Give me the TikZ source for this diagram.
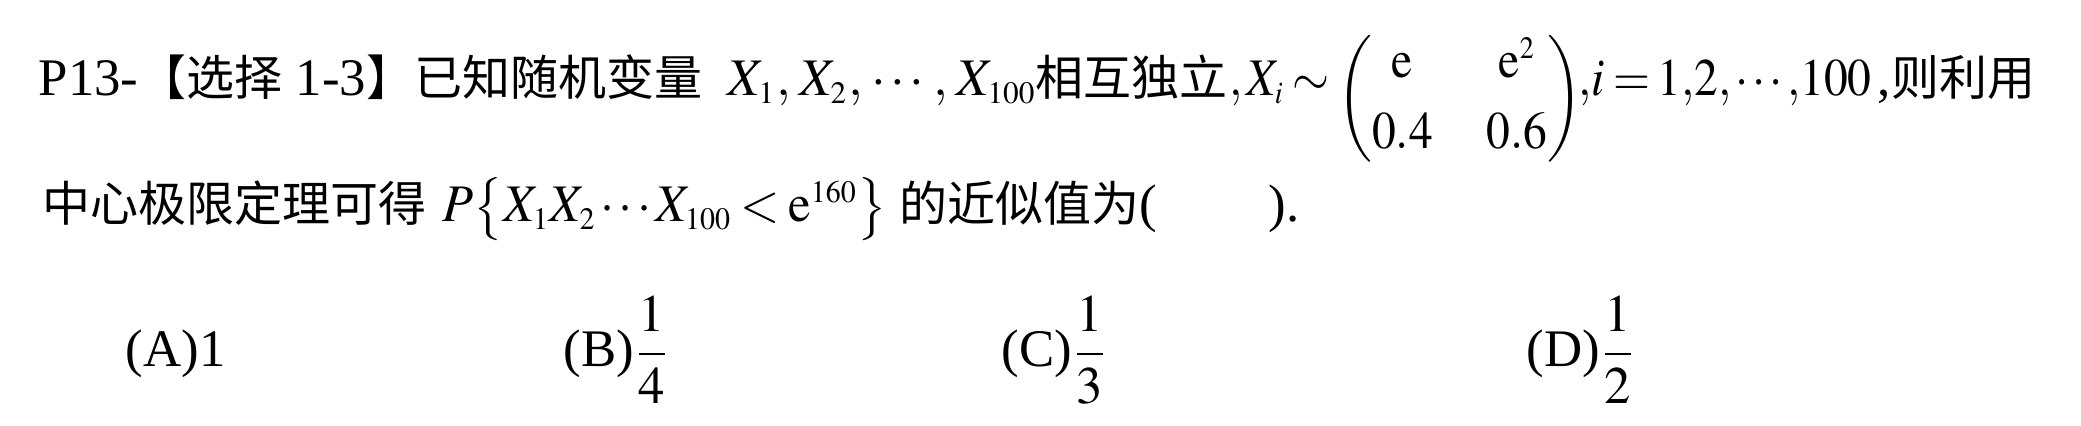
\documentclass[tikz,border=0pt]{standalone}
\usepackage{amsmath}
\usepackage{graphicx}
\usepackage[no-math]{fontspec}
\usepackage{mathptmx}
\setmainfont{Liberation Serif}
\newfontfamily\cjk{Noto Sans CJK SC}
\DeclareMathSizes{13.2}{13.2}{7.8}{6}
\newcommand{\zh}[1]{{\cjk\fontsize{12}{14}\selectfont #1}}
\newcommand{\tightmath}{\thickmuskip=3mu\medmuskip=2mu\thinmuskip=1.5mu}
\newcommand{\narrow}[2][0.9]{\scalebox{#1}[1]{#2}}
\begin{document}
\begin{tikzpicture}[x=0.25pt,y=-0.25pt,
	txt/.style={anchor=base west,inner sep=0pt,font={\fontsize{13.2}{16}\selectfont\tightmath}}]
	\useasboundingbox (0,0) rectangle (2081,426);
	% first line
	\node[txt] (head) at (38,96) {P13-\zh{【选择} 1-3\zh{】已知随机变量}};
	\node[txt] (xs) at (727,96) {$X_1,\,X_2,\,\cdots,\,X_{100}$};
	\node[txt] (indep) at (1035,96) {\zh{相互独立}};
	\node[txt] (law) at (1229,96) {\narrow{$,X_i\sim\raisebox{-4pt}{$\renewcommand{\arraystretch}{1.1}\setlength{\arraycolsep}{7.5pt}\delimiterfactor=760\delimitershortfall=14pt\left(\begin{matrix}\mathrm{e} & \mathrm{e}^2\\ 0.4 & 0.6\end{matrix}\right)$}$}};
	\node[txt] (index) at (1578,96) {\narrow{${,}i=1{,}2{,}\cdots{,}100$}};
	\node[txt] (use) at (1877,96) {,\zh{则利用}};
	% second line
	\node[txt] (clt) at (42,222) {\zh{中心极限定理可得}};
	\node[txt] (prob) at (442,222) {\narrow[0.96]{$P\bigl\{X_1X_2\cdots X_{100}<\mathrm{e}^{160}\bigr\}$}};
	\node[txt] (approx) at (899,222) {\zh{的近似值为}(};
	\node[txt] (blank) at (1268,222) {).};
	% options
	\node[txt] (optA) at (125,367) {(A)1};
	\node[txt] (optB) at (563,367) {(B)$\dfrac{1}{4}$};
	\node[txt] (optC) at (1001,367) {(C)$\dfrac{1}{3}$};
	\node[txt] (optD) at (1526,367) {(D)$\dfrac{1}{2}$};
\end{tikzpicture}
\end{document}
